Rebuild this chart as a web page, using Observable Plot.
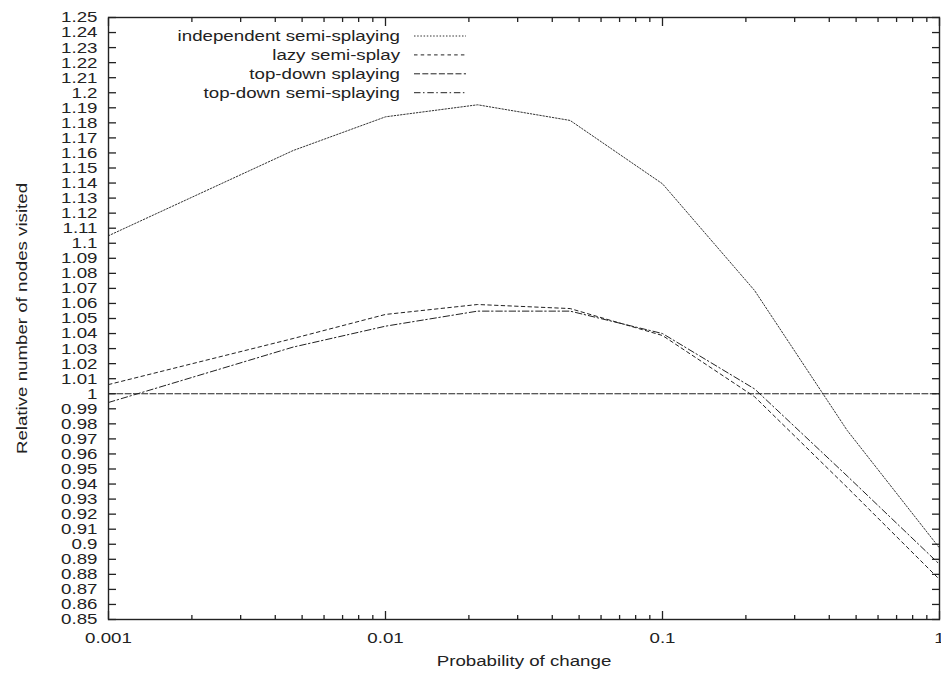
<!DOCTYPE html>
<html>
<head>
<meta charset="utf-8">
<script src="https://cdn.jsdelivr.net/npm/d3@7"></script>
<script src="https://cdn.jsdelivr.net/npm/@observablehq/plot@0.6"></script>
<style>
  html, body { margin: 0; padding: 0; background: #fff; }
  #chart svg { display: block; }
</style>
</head>
<body>
<div id="chart"></div>
<script>
// ---- data ----
const probs = [0.001, 0.00464, 0.01, 0.0215, 0.0464, 0.1, 0.215, 0.464, 1];
const seriesNames = ["independent semi-splaying", "lazy semi-splay", "top-down splaying", "top-down semi-splaying"];
const independentSemiSplaying = [1.105, 1.1616, 1.184, 1.192, 1.1816, 1.1395, 1.0686, 0.9757, 0.8975];
const lazySemiSplay          = [1.0061, 1.0367, 1.0527, 1.0593, 1.0566, 1.0387, 0.998, 0.9378, 0.8766];
const topDownSplaying        = [1, 1, 1, 1, 1, 1, 1, 1, 1];
const topDownSemiSplaying    = [0.9942, 1.031, 1.0449, 1.0549, 1.0549, 1.040, 1.0032, 0.9454, 0.8867];
const yTickLabels = ["0.85","0.86","0.87","0.88","0.89","0.9","0.91","0.92","0.93","0.94","0.95","0.96","0.97","0.98","0.99","1",
  "1.01","1.02","1.03","1.04","1.05","1.06","1.07","1.08","1.09","1.1","1.11","1.12","1.13","1.14","1.15","1.16","1.17","1.18","1.19","1.2",
  "1.21","1.22","1.23","1.24","1.25"];
const xTickLabels = ["0.001", "0.01", "0.1", "1"];
const xLabel = "Probability of change";
const yLabel = "Relative number of nodes visited";

// ---- styles ----
const ink = "#222";
const fontPx = 18.7;
const lineStyles = [
  {stroke: "#333", dash: "1.5,1.7"},
  {stroke: "#222", dash: "3.5,3.2"},
  {stroke: "#222", dash: "6,2.3"},
  {stroke: "#222", dash: "6.5,2.5,1.5,2.8"}
];

const seriesValues = [independentSemiSplaying, lazySemiSplay, topDownSplaying, topDownSemiSplaying];
const rows = seriesNames.flatMap((name, s) => probs.map((p, i) => ({series: name, p, v: seriesValues[s][i]})));

const yTicks = yTickLabels.map(Number);
const xTicks = xTickLabels.map(Number);
const xMinor = d3.scaleLog().domain([0.001, 1]).ticks()
  .filter(d => Math.abs(Math.log10(d) - Math.round(Math.log10(d))) > 1e-6);
const yFmt = d => String(+(+d).toFixed(2));
const xFmt = d => String(+d);
const blank = () => "";

const lineMarks = seriesNames.map((name, s) =>
  Plot.line(rows.filter(r => r.series === name), {
    x: "p", y: "v", stroke: lineStyles[s].stroke, strokeWidth: 1,
    strokeDasharray: lineStyles[s].dash, curve: "linear"
  })
);

const chart = Plot.plot({
  width: 941,
  height: 679,
  marginLeft: 108,
  marginRight: 2,
  marginTop: 17,
  marginBottom: 60,
  style: {fontFamily: "'Liberation Sans', Arial, Helvetica, sans-serif", fontSize: fontPx + "px", background: "#fff", color: ink},
  x: {type: "log", domain: [0.001, 1], label: null, axis: null},
  y: {domain: [0.85, 1.25], label: null, axis: null},
  marks: [
    ...lineMarks,
    // y ticks (inward) left & right, labels left
    Plot.axisY(yTicks, {anchor: "left", tickSize: -8, tickFormat: blank, stroke: ink, strokeWidth: 1.3, label: null}),
    Plot.axisY(yTicks, {anchor: "right", tickSize: -8, tickFormat: blank, stroke: ink, strokeWidth: 1.3, label: null}),
    Plot.axisY(yTicks, {anchor: "left", tickSize: 0, tickPadding: 11, tickFormat: yFmt, fill: ink, fontSize: fontPx, label: null, ariaLabel: "ylabels"}),
    // x ticks (inward) bottom & top, major and minor
    Plot.axisX(xTicks, {anchor: "bottom", tickSize: -8, tickFormat: blank, stroke: ink, strokeWidth: 1.3, label: null}),
    Plot.axisX(xMinor, {anchor: "bottom", tickSize: -4, tickFormat: blank, stroke: ink, strokeWidth: 1.3, label: null}),
    Plot.axisX(xTicks, {anchor: "top", tickSize: -8, tickFormat: blank, stroke: ink, strokeWidth: 1.3, label: null}),
    Plot.axisX(xMinor, {anchor: "top", tickSize: -4, tickFormat: blank, stroke: ink, strokeWidth: 1.3, label: null}),
    Plot.axisX(xTicks, {anchor: "bottom", tickSize: 0, tickPadding: 13, tickFormat: xFmt, fill: ink, fontSize: fontPx, label: null}),
    Plot.frame({stroke: ink, strokeWidth: 1.4}),
    // axis titles
    Plot.text([xLabel], {text: d => d, frameAnchor: "bottom", textAnchor: "middle", dy: 46, fill: ink, fontSize: fontPx}),
    Plot.text([yLabel], {text: d => d, frameAnchor: "left", textAnchor: "middle", dx: -86, rotate: -90, fill: ink, fontSize: fontPx})
  ]
});

document.getElementById("chart").appendChild(chart);

// ---- legend (inside top-left of plot) ----
const svg = d3.select(chart);
const legend = svg.append("g").attr("class", "legend");
seriesNames.forEach((name, i) => {
  const y = 36 + 18.9 * i;
  legend.append("text")
    .attr("transform", `translate(400,${y})`)
    .attr("text-anchor", "end")
    .attr("dy", "0.32em")
    .attr("fill", ink)
    .attr("font-size", fontPx)
    .text(name);
  legend.append("line")
    .attr("x1", 414).attr("x2", 466).attr("y1", y).attr("y2", y)
    .attr("stroke", lineStyles[i].stroke)
    .attr("stroke-width", 1)
    .attr("stroke-dasharray", lineStyles[i].dash);
});

// Gnuplot's PostScript font is wider than it is tall: squash glyphs vertically about their anchors.
// The densely stacked y tick labels get a little more squash so their boxes do not overlap.
svg.selectAll("text").each(function() {
  const inYLabels = this.closest("g[aria-label='ylabels']") !== null;
  const t = this.getAttribute("transform") || "";
  this.setAttribute("transform", (t + ` scale(1,${inYLabels ? 0.72 : 0.82})`).trim());
});
</script>
</body>
</html>
